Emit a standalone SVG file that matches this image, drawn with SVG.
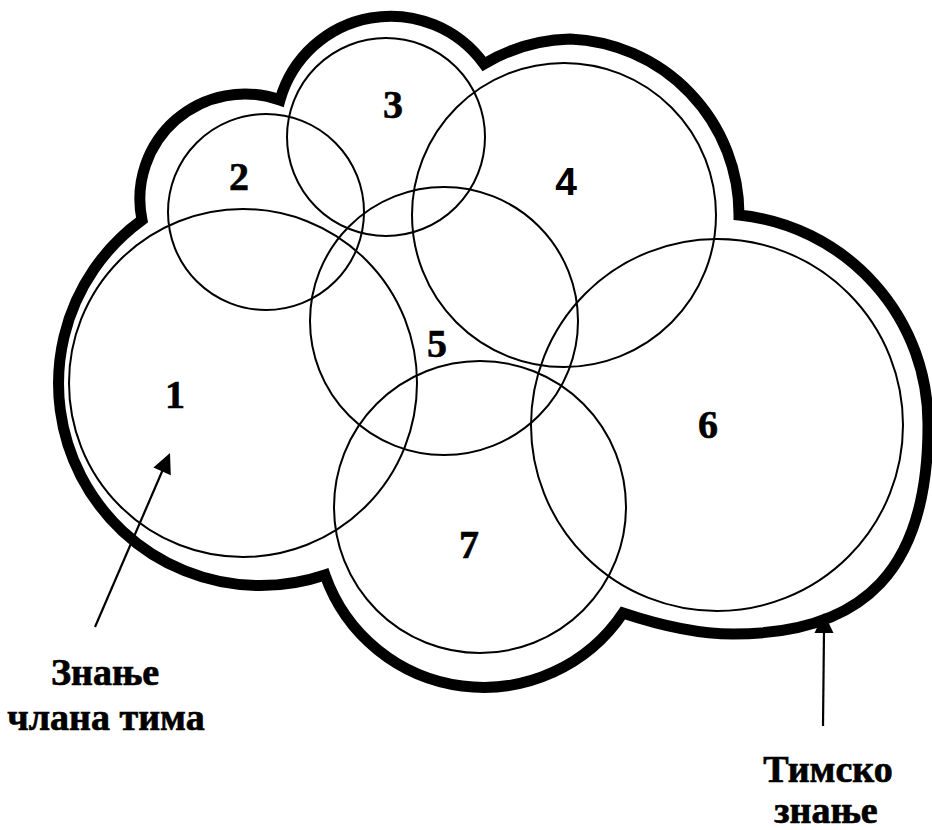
<svg xmlns="http://www.w3.org/2000/svg" width="932" height="830" viewBox="0 0 932 830">
  <style>
    .member { fill: none; stroke: #000; stroke-width: 2; }
    .team { fill: none; stroke: #000; stroke-width: 11; stroke-linejoin: miter; stroke-miterlimit: 10; }
    .lead { fill: none; stroke: #000; stroke-width: 2.2; }
    .head { fill: #000; stroke: none; }
    .num { font-family: "Liberation Serif", "Times New Roman", serif; font-weight: bold; font-size: 40px; fill: #000; stroke: #000; stroke-width: 0.6; text-anchor: middle; }
    .num-sans { font-family: "Liberation Sans", Arial, sans-serif; font-weight: bold; font-size: 39px; fill: #000; text-anchor: middle; }
    .caption { font-family: "Liberation Serif", "Times New Roman", serif; font-weight: bold; font-size: 38px; fill: #000; stroke: #000; stroke-width: 0.7; text-anchor: middle; }
  </style>

  <rect width="932" height="830" fill="#fff"/>

  <!-- individual knowledge circles -->
  <g id="member-1"><circle class="member" cx="243" cy="383" r="174"/><text class="num" x="175" y="408">1</text></g>
  <g id="member-2"><circle class="member" cx="266" cy="212" r="98"/><text class="num" x="239" y="190">2</text></g>
  <g id="member-3"><circle class="member" cx="386" cy="137" r="99"/><text class="num" x="393" y="118">3</text></g>
  <g id="member-4"><circle class="member" cx="564" cy="215" r="152"/><text class="num-sans" x="566" y="195">4</text></g>
  <g id="member-5"><circle class="member" cx="444" cy="321" r="134"/><text class="num" x="437" y="357">5</text></g>
  <g id="member-6"><circle class="member" cx="717" cy="425" r="186"/><text class="num" x="708" y="438">6</text></g>
  <g id="member-7"><circle class="member" cx="480" cy="507" r="146"/><text class="num" x="469" y="558">7</text></g>

  <!-- team knowledge boundary -->
  <g id="team-boundary">
    <path class="team" d="M 142,220
      A 105 105 0 0 1 280,100
      A 115 115 0 0 1 484,64
      A 176 176 0 0 1 570,39
      A 176 176 0 0 1 739,215
      A 210 210 0 0 1 928,426
      C 928,568 866,634 733,634
      C 690,634 650,622 623,613
      A 168 168 0 0 1 325,575
      A 202 202 0 0 1 142,220 Z"/>
  </g>

  <!-- pointers -->
  <g id="connectors">
    <line class="lead" x1="95" y1="627" x2="164" y2="467"/>
    <polygon class="head" points="170,453 170.8,475.2 153.4,467.6"/>
    <line class="lead" x1="823" y1="726" x2="824" y2="630"/>
    <polygon class="head" points="824,613 833.5,633 814.5,633"/>
  </g>

  <g id="label-member">
    <text class="caption" x="105" y="685">Знање</text>
    <text class="caption" x="106" y="730">члана тима</text>
  </g>
  <g id="label-team">
    <text class="caption" x="828" y="782">Тимско</text>
    <text class="caption" x="826" y="823">знање</text>
  </g>
</svg>
